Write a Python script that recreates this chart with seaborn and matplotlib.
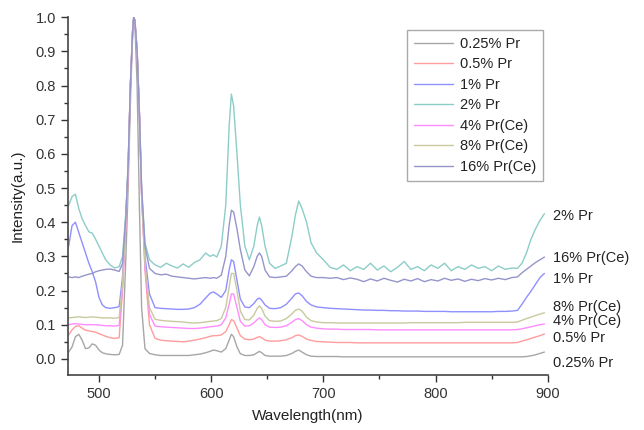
import pandas as pd
import matplotlib.pyplot as plt
from matplotlib.ticker import MultipleLocator
import seaborn as sns

# wavelength grid (nm)
wl = [473, 476, 479, 482, 485, 488, 491, 494, 497, 500, 503, 506, 510, 514, 518,
      521, 524, 526, 528, 530, 531, 532, 534, 536, 538, 541, 545,
      550, 555, 560, 565, 570, 575, 580, 585, 590, 595,
      599, 602, 605, 609, 613, 616, 618, 620, 623, 626, 630, 634, 638, 641, 643, 645, 648, 652, 657, 662, 667, 672, 675, 678, 681, 685, 689, 694, 700,
      706, 712, 718, 724, 730, 736, 742, 748, 754, 760, 766, 772, 778, 784, 790, 796, 802, 808, 814, 820, 826, 832, 838, 844, 850, 856, 862, 868,
      873, 877, 881, 885, 889, 893, 897]

pr_025 = [0.02, 0.035, 0.065, 0.072, 0.055, 0.03, 0.032, 0.044, 0.04, 0.026, 0.018, 0.015, 0.013, 0.012, 0.013,
          0.04, 0.3, 0.5, 0.75, 0.95, 1.0, 0.98, 0.8, 0.45, 0.15, 0.03, 0.016,
          0.012, 0.01, 0.01, 0.01, 0.01, 0.01, 0.01, 0.012, 0.014, 0.018,
          0.022, 0.026, 0.024, 0.02, 0.03, 0.055, 0.072, 0.065, 0.035, 0.015, 0.01, 0.01, 0.012, 0.018, 0.022, 0.018, 0.01, 0.008, 0.008, 0.008, 0.01, 0.016, 0.022, 0.026, 0.02, 0.012, 0.008, 0.007, 0.007,
          0.007, 0.007, 0.006, 0.006, 0.006, 0.006, 0.006, 0.006, 0.006, 0.006, 0.006, 0.006, 0.006, 0.006, 0.006, 0.006, 0.006, 0.006, 0.006, 0.006, 0.006, 0.006, 0.006, 0.006, 0.006, 0.006, 0.006, 0.006,
          0.006, 0.006, 0.007, 0.009, 0.012, 0.016, 0.02]

pr_05 = [0.07, 0.085, 0.095, 0.097, 0.09, 0.084, 0.082, 0.08, 0.078, 0.074, 0.07, 0.066, 0.062, 0.06, 0.062,
         0.2, 0.4, 0.55, 0.8, 0.96, 1.0, 0.99, 0.9, 0.72, 0.48, 0.26, 0.1,
         0.06, 0.055, 0.053, 0.052, 0.051, 0.05, 0.052, 0.055, 0.058, 0.062,
         0.066, 0.068, 0.068, 0.07, 0.08, 0.1, 0.115, 0.112, 0.09, 0.068, 0.058, 0.056, 0.058, 0.063, 0.065, 0.062, 0.055, 0.052, 0.052, 0.053, 0.056, 0.062, 0.068, 0.07, 0.066, 0.058, 0.054, 0.051, 0.05,
         0.049, 0.048, 0.048, 0.048, 0.047, 0.047, 0.047, 0.047, 0.047, 0.047, 0.047, 0.047, 0.047, 0.047, 0.047, 0.047, 0.047, 0.047, 0.047, 0.047, 0.047, 0.047, 0.047, 0.047, 0.047, 0.047, 0.047, 0.047,
         0.048, 0.052, 0.056, 0.06, 0.064, 0.068, 0.073]

pr_1 = [0.33, 0.39, 0.4, 0.37, 0.34, 0.31, 0.28, 0.255, 0.225, 0.18, 0.158, 0.15, 0.148, 0.15, 0.153,
        0.24, 0.42, 0.56, 0.8, 0.96, 1.0, 0.99, 0.9, 0.72, 0.49, 0.3, 0.19,
        0.15, 0.148, 0.147, 0.146, 0.145, 0.145, 0.146, 0.15, 0.16, 0.178,
        0.192, 0.196, 0.19, 0.18, 0.2, 0.26, 0.29, 0.285, 0.23, 0.175, 0.152, 0.15, 0.162, 0.175, 0.178, 0.172, 0.158, 0.148, 0.147, 0.15, 0.16, 0.178, 0.19, 0.193, 0.185, 0.168, 0.158, 0.152, 0.15,
        0.148, 0.147, 0.146, 0.145, 0.144, 0.143, 0.143, 0.142, 0.142, 0.141, 0.141, 0.14, 0.14, 0.14, 0.139, 0.139, 0.139, 0.139, 0.138, 0.138, 0.138, 0.138, 0.138, 0.138, 0.138, 0.139, 0.139, 0.14,
        0.142, 0.16, 0.18, 0.198, 0.218, 0.238, 0.25]

pr_2 = [0.45, 0.475, 0.482, 0.44, 0.41, 0.39, 0.372, 0.368, 0.35, 0.33, 0.31, 0.29, 0.275, 0.266, 0.27,
        0.3, 0.43, 0.57, 0.8, 0.96, 1.0, 0.99, 0.9, 0.72, 0.5, 0.34, 0.29,
        0.275, 0.268, 0.28, 0.272, 0.266, 0.278, 0.268, 0.282, 0.29, 0.31,
        0.3, 0.305, 0.298, 0.33, 0.45, 0.68, 0.775, 0.74, 0.6, 0.45, 0.33, 0.29, 0.33, 0.39, 0.415, 0.39, 0.33, 0.28, 0.265, 0.272, 0.28, 0.36, 0.42, 0.462, 0.44, 0.4, 0.34, 0.31, 0.29,
        0.268, 0.262, 0.275, 0.258, 0.27, 0.262, 0.28, 0.26, 0.272, 0.255, 0.268, 0.285, 0.262, 0.27, 0.258, 0.275, 0.265, 0.28, 0.258, 0.27, 0.262, 0.275, 0.265, 0.27, 0.258, 0.272, 0.262, 0.266,
        0.265, 0.28, 0.31, 0.35, 0.38, 0.405, 0.425]

prce_4 = [0.1, 0.102, 0.103, 0.102, 0.101, 0.1, 0.1, 0.1, 0.1, 0.099, 0.098, 0.097, 0.097, 0.096, 0.098,
          0.21, 0.4, 0.55, 0.8, 0.96, 1.0, 0.99, 0.9, 0.72, 0.48, 0.27, 0.13,
          0.096, 0.094, 0.093, 0.092, 0.091, 0.09, 0.089, 0.089, 0.09, 0.092,
          0.094, 0.095, 0.096, 0.1, 0.12, 0.16, 0.19, 0.19, 0.15, 0.11, 0.096, 0.097, 0.105, 0.115, 0.12, 0.115, 0.1, 0.093, 0.092, 0.093, 0.097, 0.107, 0.115, 0.118, 0.112, 0.1, 0.093, 0.09, 0.088,
          0.087, 0.087, 0.086, 0.086, 0.086, 0.086, 0.086, 0.085, 0.085, 0.085, 0.085, 0.085, 0.085, 0.085, 0.085, 0.085, 0.085, 0.085, 0.085, 0.085, 0.085, 0.085, 0.085, 0.085, 0.085, 0.085, 0.085, 0.085,
          0.086, 0.088, 0.091, 0.094, 0.097, 0.1, 0.102]

prce_8 = [0.12, 0.121, 0.122, 0.123, 0.122, 0.121, 0.122, 0.123, 0.122, 0.121, 0.12, 0.12, 0.12, 0.119, 0.121,
          0.22, 0.41, 0.56, 0.8, 0.96, 1.0, 0.99, 0.9, 0.72, 0.48, 0.28, 0.15,
          0.116, 0.113, 0.111, 0.11, 0.109, 0.108, 0.106, 0.105, 0.106, 0.108,
          0.11, 0.111, 0.112, 0.118, 0.15, 0.21, 0.25, 0.25, 0.2, 0.14, 0.115, 0.114, 0.128, 0.148, 0.155, 0.148, 0.125, 0.112, 0.11, 0.111, 0.118, 0.132, 0.142, 0.146, 0.14, 0.122, 0.112, 0.108, 0.106,
          0.106, 0.105, 0.105, 0.105, 0.105, 0.105, 0.105, 0.105, 0.105, 0.105, 0.105, 0.105, 0.106, 0.106, 0.106, 0.106, 0.106, 0.106, 0.106, 0.106, 0.107, 0.107, 0.107, 0.107, 0.107, 0.107, 0.107, 0.107,
          0.108, 0.113, 0.118, 0.122, 0.127, 0.131, 0.135]

prce_16 = [0.24, 0.238, 0.24, 0.238, 0.242, 0.245, 0.248, 0.25, 0.255, 0.258, 0.26, 0.262, 0.263, 0.26, 0.256,
           0.28, 0.42, 0.57, 0.8, 0.96, 1.0, 0.99, 0.9, 0.72, 0.5, 0.33, 0.265,
           0.25, 0.246, 0.248, 0.242, 0.24, 0.238, 0.236, 0.234, 0.236, 0.238,
           0.236, 0.238, 0.236, 0.245, 0.3, 0.39, 0.435, 0.43, 0.38, 0.32, 0.26, 0.243, 0.27, 0.3, 0.31, 0.3, 0.26, 0.24, 0.238, 0.24, 0.242, 0.258, 0.27, 0.278, 0.272, 0.255, 0.242, 0.238, 0.238,
           0.236, 0.238, 0.232, 0.237, 0.233, 0.226, 0.234, 0.228, 0.236, 0.23, 0.225, 0.233, 0.228, 0.235, 0.226, 0.232, 0.228, 0.236, 0.23, 0.234, 0.227, 0.233, 0.229, 0.235, 0.231, 0.236, 0.232, 0.238,
           0.24, 0.252, 0.262, 0.272, 0.282, 0.29, 0.298]

labels = ['0.25% Pr', '0.5% Pr', '1% Pr', '2% Pr', '4% Pr(Ce)', '8% Pr(Ce)', '16% Pr(Ce)']
series = [pr_025, pr_05, pr_1, pr_2, prce_4, prce_8, prce_16]
colors = ['#a6a6a6', '#ff9c9c', '#8f8fff', '#8ccdc8', '#ff8cff', '#c9c9a0', '#9595cc']

# labels at the right end of the curves
end_labels = ['2% Pr', '16% Pr(Ce)', '1% Pr', '8% Pr(Ce)', '4% Pr(Ce)', '0.5% Pr', '0.25% Pr']
end_label_y = [0.418, 0.295, 0.234, 0.152, 0.111, 0.061, -0.012]

df = pd.concat([pd.DataFrame({'Wavelength': wl, 'Intensity': s, 'Sample': lab})
                for s, lab in zip(series, labels)])

sns.set_style('ticks')
plt.rcParams['font.family'] = ['Liberation Sans', 'DejaVu Sans']

fig = plt.figure(figsize=(6.44, 4.30), dpi=100)
ax = fig.add_axes([0.1056, 0.128, 0.745, 0.832])

sns.lineplot(data=df, x='Wavelength', y='Intensity', hue='Sample', hue_order=labels,
             palette=dict(zip(labels, colors)), linewidth=1.0, estimator=None, ax=ax)

ax.set_xlim(472.4, 900)
ax.set_ylim(-0.047, 1.0)
ax.xaxis.set_major_locator(MultipleLocator(100))
ax.xaxis.set_minor_locator(MultipleLocator(50))
ax.yaxis.set_major_locator(MultipleLocator(0.1))
ax.yaxis.set_minor_locator(MultipleLocator(0.05))
ax.yaxis.set_major_formatter(plt.FormatStrFormatter('%.1f'))
ax.tick_params(which='major', direction='out', length=5, width=1.0, labelsize=10.5, colors='#333333')
ax.tick_params(which='minor', direction='out', length=3, width=1.0, colors='#333333')
for side in ['top', 'right']:
    ax.spines[side].set_visible(False)
for side in ['left', 'bottom']:
    ax.spines[side].set_color('#444444')
    ax.spines[side].set_linewidth(1.2)

ax.set_xlabel('Wavelength(nm)', fontsize=11, color='#222222', labelpad=6)
ax.set_ylabel('Intensity(a.u.)', fontsize=11, color='#222222', labelpad=8)

leg = ax.legend(loc='upper right', bbox_to_anchor=(0.99, 0.964), borderaxespad=0, fontsize=10.5,
                frameon=True, fancybox=False, edgecolor='#aaaaaa', framealpha=1,
                handlelength=2.7, handletextpad=0.5, labelspacing=0.45, borderpad=0.45)
leg.get_frame().set_linewidth(1.0)
for t in leg.get_texts():
    t.set_color('#222222')

for lab, y in zip(end_labels, end_label_y):
    ax.text(904.5, y, lab, fontsize=10.5, color='#222222', va='center', ha='left', clip_on=False)

fig.savefig('out.png', dpi=100)
